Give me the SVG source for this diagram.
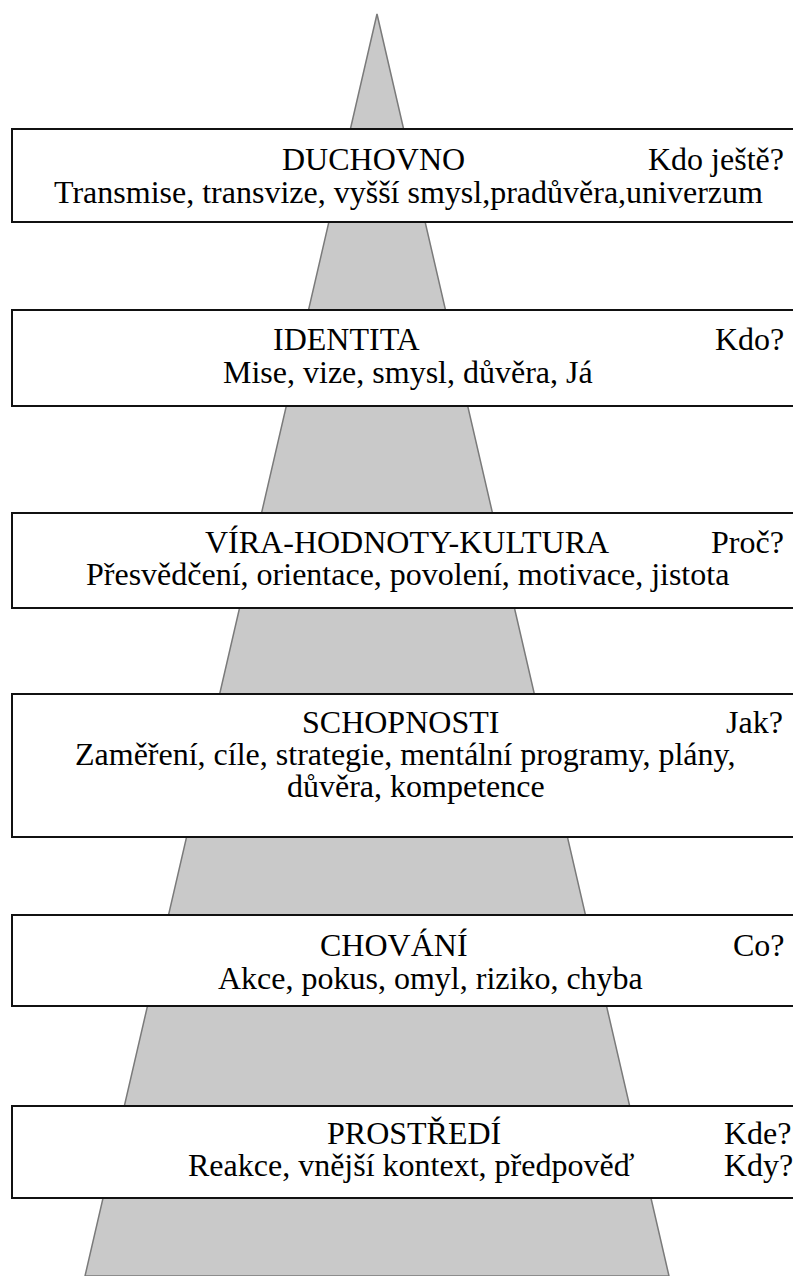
<svg xmlns="http://www.w3.org/2000/svg" width="793" height="1276" viewBox="0 0 793 1276">
<style>
.box{fill:#ffffff;stroke:#111111;stroke-width:2}
.t{font-family:"Liberation Serif","Times New Roman",serif;font-size:32px;fill:#000000}
</style>
<rect width="793" height="1276" fill="#ffffff"/>
<g id="pyramid">
<polygon points="377,14 85,1276 669,1276" fill="#c9c9c9" stroke="#7a7a7a" stroke-width="1.5"/>
</g>
<g id="node-duchovno">
<rect class="box" x="12" y="129" width="800" height="93"/>
<text class="t" x="282" y="170">DUCHOVNO</text>
<text class="t" x="648" y="170">Kdo ještě?</text>
<text class="t" x="54" y="203">Transmise, transvize, vyšší smysl,pradůvěra,univerzum</text>
</g>
<g id="node-identita">
<rect class="box" x="12" y="310" width="800" height="96"/>
<text class="t" x="273" y="350">IDENTITA</text>
<text class="t" x="715" y="350">Kdo?</text>
<text class="t" x="223" y="383">Mise, vize, smysl, důvěra, Já</text>
</g>
<g id="node-vira">
<rect class="box" x="12" y="513" width="800" height="95"/>
<text class="t" x="205" y="553">VÍRA-HODNOTY-KULTURA</text>
<text class="t" x="711" y="553">Proč?</text>
<text class="t" x="86" y="585">Přesvědčení, orientace, povolení, motivace, jistota</text>
</g>
<g id="node-schopnosti">
<rect class="box" x="12" y="694" width="800" height="143"/>
<text class="t" x="302" y="733">SCHOPNOSTI</text>
<text class="t" x="726" y="733">Jak?</text>
<text class="t" x="75" y="765">Zaměření, cíle, strategie, mentální programy, plány,</text>
<text class="t" x="287" y="797">důvěra, kompetence</text>
</g>
<g id="node-chovani">
<rect class="box" x="12" y="915" width="800" height="91"/>
<text class="t" x="320" y="956">CHOVÁNÍ</text>
<text class="t" x="733" y="956">Co?</text>
<text class="t" x="218" y="989">Akce, pokus, omyl, riziko, chyba</text>
</g>
<g id="node-prostredi">
<rect class="box" x="12" y="1106" width="800" height="92"/>
<text class="t" x="327" y="1144">PROSTŘEDÍ</text>
<text class="t" x="724" y="1144">Kde?</text>
<text class="t" x="188" y="1176">Reakce, vnější kontext, předpověď</text>
<text class="t" x="724" y="1176">Kdy?</text>
</g>
<g id="connectors"></g>
</svg>
